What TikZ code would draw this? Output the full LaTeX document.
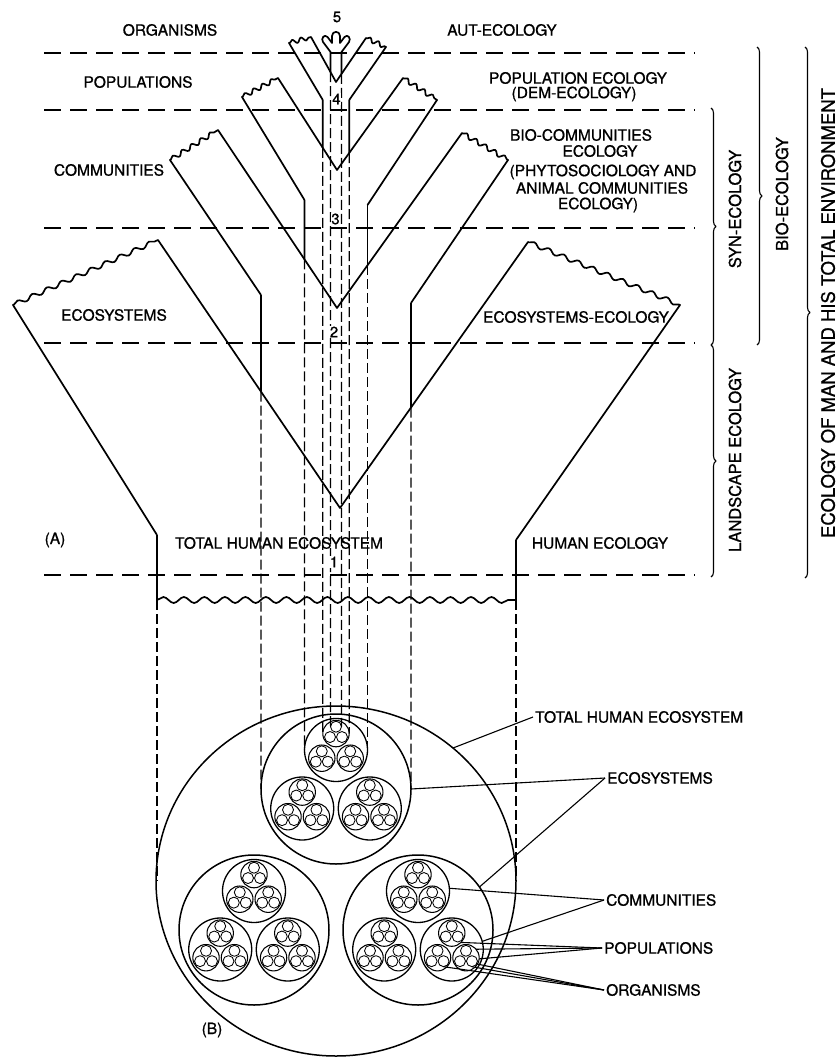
\documentclass[tikz,border=0pt]{standalone}
\usepackage{fontspec}
\setmainfont[FakeBold=0.9]{TeX Gyre Heros}
\usetikzlibrary{calc,decorations.pathmorphing,decorations.pathreplacing}

\newcommand{\myorgset}[2]{%
  \draw[popline] (#1,#2) circle[radius=13.2];
  \foreach \aa in {270,30,150}{%
    \pgfmathsetmacro\myOX{#1+6.9*cos(\aa)}%
    \pgfmathsetmacro\myOY{#2+6.9*sin(\aa)}%
    \draw[orgline] (\myOX,\myOY) circle[radius=5.5];
  }}
\newcommand{\mycommset}[2]{%
  \draw[comline] (#1,#2) circle[radius=31.5];
  \foreach \ab in {270,30,150}{%
    \pgfmathsetmacro\myPX{#1+16.4*cos(\ab)}%
    \pgfmathsetmacro\myPY{#2+16.4*sin(\ab)}%
    \myorgset{\myPX}{\myPY}
  }}
\newcommand{\myecoset}[2]{%
  \draw[ecoline] (#1,#2) circle[radius=75];
  \foreach \ac in {270,30,150}{%
    \pgfmathsetmacro\myCX{#1+39*cos(\ac)}%
    \pgfmathsetmacro\myCY{#2+39*sin(\ac)}%
    \mycommset{\myCX}{\myCY}
  }}

\begin{document}
\begin{tikzpicture}[x=1pt,y=-1pt,line join=round,
  edge/.style={line width=1.7pt},
  hdash/.style={line width=1.4pt,dash pattern=on 17pt off 9pt},
  vdash/.style={line width=1.3pt,dash pattern=on 10pt off 4pt},
  ecoline/.style={line width=1.5pt},
  comline/.style={line width=1.3pt},
  popline/.style={line width=1.05pt},
  orgline/.style={line width=0.85pt},
  leader/.style={line width=1.1pt},
  bracestyle/.style={line width=1.1pt,decorate,decoration={brace,amplitude=5pt}},
  lbl/.style={inner sep=0pt,font=\fontsize{15.5}{17}\selectfont},
  vlbl/.style={inner sep=0pt,font=\fontsize{16.5}{18}\selectfont,rotate=90},
  biglbl/.style={inner sep=0pt,font=\fontsize{18.5}{20}\selectfont,rotate=90},
  num/.style={inner sep=0.6pt,fill=white,font=\fontsize{15}{16}\selectfont},
  wavy/.style={decoration={snake,segment length=#1,amplitude=2.2pt,pre length=1pt,post length=1pt}},
]
\useasboundingbox (0,0) rectangle (837,1059);
\fill[white] (0,0) rectangle (837,1059);

% ---------- level lines ----------
\foreach \yy in {53,110,228,343,575}
  \draw[hdash] (44,\yy) -- (695,\yy);

% ---------- funnel D (ecosystems) ----------
\coordinate (DoL) at (13,305);  \coordinate (DiL) at (158,240);
\coordinate (DaP) at (340,508);
\coordinate (DiR) at (528,242); \coordinate (DoR) at (680,305);
\coordinate (DnL) at (157,535); \coordinate (DnR) at (516,540);
\draw[edge] (DnL) -- (DoL) decorate[wavy=16]{-- (DiL)} -- (DaP) -- (DiR) decorate[wavy=16]{-- (DoR)} -- (DnR);
\coordinate (DwL) at (157,600); \coordinate (DwR) at (516,600);
\coordinate (DbL) at (157,881); \coordinate (DbR) at (516,881);
\draw[edge] (DnL) -- (DwL);
\draw[edge] (DnR) -- (DwR);
\draw[edge,decorate,decoration={snake,segment length=20.5,amplitude=3pt}] (DwL) -- (DwR);
\draw[vdash] (DwL) -- (DbL);
\draw[vdash] (DwR) -- (DbR);

% ---------- funnel C (communities) ----------
\coordinate (CoL) at (170,160); \coordinate (CiL) at (218,130);
\coordinate (CaP) at (337,308);
\coordinate (CiR) at (462,133); \coordinate (CoR) at (508,160);
\coordinate (CnL) at (261,295); \coordinate (CnR) at (411,303);
\draw[edge] (CnL) -- (CoL) decorate[wavy=11]{-- (CiL)} -- (CaP) -- (CiR) decorate[wavy=11]{-- (CoR)} -- (CnR);
\coordinate (CbL) at (261,789); \coordinate (CbR) at (411,789);
\coordinate (CxL) at (intersection of CnL--CbL and DiL--DaP);
\coordinate (CxR) at (intersection of CnR--CbR and DiR--DaP);
\draw[edge] (CnL) -- (CxL); \draw[vdash] (CxL) -- (CbL);
\draw[edge] (CnR) -- (CxR); \draw[vdash] (CxR) -- (CbR);

% ---------- funnel B ----------
\coordinate (BoL) at (242,97);  \coordinate (BiL) at (278,78);
\coordinate (BaP) at (337,170);
\coordinate (BiR) at (403,78);  \coordinate (BoR) at (437,100);
\coordinate (BnL) at (304.5,200); \coordinate (BnR) at (367.5,205);
\draw[edge] (BnL) -- (BoL) decorate[wavy=10]{-- (BiL)} -- (BaP) -- (BiR) decorate[wavy=10]{-- (BoR)} -- (BnR);
\coordinate (BbL) at (304.5,750); \coordinate (BbR) at (367.5,750);
\coordinate (BxL) at (intersection of BnL--BbL and CiL--CaP);
\coordinate (BxR) at (intersection of BnR--BbR and CiR--CaP);
\draw[edge] (BnL) -- (BxL); \draw[vdash] (BxL) -- (BbL);
\draw[edge] (BnR) -- (BxR); \draw[vdash] (BxR) -- (BbR);

% ---------- funnel A ----------
\coordinate (AoL) at (289,43);  \coordinate (AiL) at (311,37);
\coordinate (AaP) at (336,82);
\coordinate (AiR) at (366,38);  \coordinate (AoR) at (386,47);
\coordinate (AnL) at (322.8,100); \coordinate (AnR) at (349.2,100);
\draw[edge] (AnL) -- (AoL) decorate[wavy=9]{-- (AiL)} -- (AaP) -- (AiR) decorate[wavy=9]{-- (AoR)} -- (AnR);
\coordinate (AbL) at (322.8,733.6); \coordinate (AbR) at (349.2,733.6);
\coordinate (AxL) at (intersection of AnL--AbL and BiL--BaP);
\coordinate (AxR) at (intersection of AnR--AbR and BiR--BaP);
\draw[edge] (AnL) -- (AxL); \draw[vdash] (AxL) -- (AbL);
\draw[edge] (AnR) -- (AxR); \draw[vdash] (AxR) -- (AbR);

% ---------- organism stem (5) ----------
\coordinate (StL) at (330.5,52); \coordinate (StR) at (341.5,52);
\coordinate (SbL) at (330.5,726.7); \coordinate (SbR) at (341.5,726.7);
\coordinate (SxL) at (intersection of StL--SbL and AiL--AaP);
\coordinate (SxR) at (intersection of StR--SbR and AiR--AaP);
\draw[edge] (SxL) -- (StL) -- (323,42) .. controls (320.5,38.5) and (324.5,33.5) .. (327.5,37)
  -- (332,43) -- (332,36) .. controls (332,30.5) and (340,30.5) .. (340,36) -- (340,43)
  -- (344.5,37) .. controls (347.5,33.5) and (351.5,38.5) .. (349,42) -- (StR) -- (SxR);
\draw[vdash] (SxL) -- (SbL);
\draw[vdash] (SxR) -- (SbR);

% ---------- level numbers ----------
\node[num] (n5) at (337,17) {5};
\node[num] (n4) at (336.5,99) {4};
\node[num] (n3) at (335.5,219) {3};
\node[num] (n2) at (334,332) {2};
\node[num] (n1) at (334,562) {1};

% ---------- labels part A ----------
\node[lbl] (lOrg) at (170,30) {ORGANISMS};
\node[lbl] (lAut) at (502,30) {AUT-ECOLOGY};
\node[lbl] (lPop) at (138,82) {POPULATIONS};
\node[lbl] (lPopE) at (578,78) {POPULATION ECOLOGY};
\node[lbl] (lDem) at (574,94) {(DEM-ECOLOGY)};
\node[lbl] (lCom) at (109,170) {COMMUNITIES};
\node[lbl] (lBioC) at (581,135) {BIO-COMMUNITIES};
\node[lbl] (lBioE) at (600,151) {ECOLOGY};
\node[lbl] (lPhy) at (603,172) {(PHYTOSOCIOLOGY AND};
\node[lbl] (lAni) at (602,188) {ANIMAL COMMUNITIES};
\node[lbl] (lAniE) at (598,205) {ECOLOGY)};
\node[lbl] (lEco) at (114,315) {ECOSYSTEMS};
\node[lbl] (lEcoE) at (576,317) {ECOSYSTEMS-ECOLOGY};
\node[lbl] (lA) at (55,540) {(A)};
\node[lbl] (lTHE) at (279,543) {TOTAL HUMAN ECOSYSTEM};
\node[lbl] (lHum) at (600,543) {HUMAN ECOLOGY};

% ---------- braces ----------
\coordinate (brSa) at (711,108); \coordinate (brSb) at (711,345);
\coordinate (brLa) at (711,345); \coordinate (brLb) at (711,577);
\coordinate (brBa) at (757,47);  \coordinate (brBb) at (757,345);
\coordinate (brMa) at (805,47);  \coordinate (brMb) at (805,578);
\draw[bracestyle] (brSa) -- (brSb);
\draw[bracestyle] (brLa) -- (brLb);
\draw[bracestyle] (brBa) -- (brBb);
\draw[bracestyle] (brMa) -- (brMb);
\node[vlbl] (lSyn) at (735,209) {SYN-ECOLOGY};
\node[vlbl] (lLand) at (735,460) {LANDSCAPE ECOLOGY};
\node[vlbl] (lBio) at (782,194) {BIO-ECOLOGY};
\node[biglbl] (lMan) at (828,313) {ECOLOGY OF MAN AND HIS TOTAL ENVIRONMENT};

% ---------- part B: nested circles ----------
\draw[ecoline] (336,881) ellipse[x radius=180,y radius=175];
\myecoset{336}{789}
\myecoset{254}{930}
\myecoset{418}{930}

% ---------- part B labels and leaders ----------
\node[lbl,anchor=west] (bTHE) at (535,717) {TOTAL HUMAN ECOSYSTEM};
\node[lbl,anchor=west] (bEco) at (607,778) {ECOSYSTEMS};
\node[lbl,anchor=west] (bCom) at (606,900) {COMMUNITIES};
\node[lbl,anchor=west] (bPop) at (604,948) {POPULATIONS};
\node[lbl,anchor=west] (bOrg) at (606,990) {ORGANISMS};
\node[lbl] (lB) at (212,1030) {(B)};

\coordinate (pTHE) at (453,748);
\coordinate (pEco1) at (411,789);
\coordinate (pEco2) at ($(418,930)+(-35:75)$);
\coordinate (pCom1) at ($(418,891)+(-5:31.5)$);
\coordinate (pCom2) at ($(451.8,949.5)+(-15:31.5)$);
\coordinate (pPop1) at ($(451.8,933.1)+(45:13.2)$);
\coordinate (pPop2) at ($(466,957.7)+(-40:13.2)$);
\coordinate (pPop3) at ($(466,957.7)+(5:13.2)$);
\coordinate (pOrg1) at ($(472,961.2)+(30:5.5)$);
\coordinate (pOrg2) at ($(472,961.2)+(90:5.5)$);
\coordinate (pOrg3) at ($(443.6,961.2)+(90:5.5)$);

\draw[leader] ([xshift=-2pt]bTHE.west) -- (pTHE);
\draw[leader] ([xshift=-2pt]bEco.west) -- (pEco1);
\draw[leader] ([xshift=-2pt]bEco.west) -- (pEco2);
\draw[leader] ([xshift=-2pt]bCom.west) -- (pCom1);
\draw[leader] ([xshift=-2pt]bCom.west) -- (pCom2);
\draw[leader] ([xshift=-2pt]bPop.west) -- (pPop1);
\draw[leader] ([xshift=-2pt]bPop.west) -- (pPop2);
\draw[leader] ([xshift=-2pt]bPop.west) -- (pPop3);
\draw[leader] ([xshift=-2pt]bOrg.west) -- (pOrg1);
\draw[leader] ([xshift=-2pt]bOrg.west) -- (pOrg2);
\draw[leader] ([xshift=-2pt]bOrg.west) -- (pOrg3);
\end{tikzpicture}
\end{document}
